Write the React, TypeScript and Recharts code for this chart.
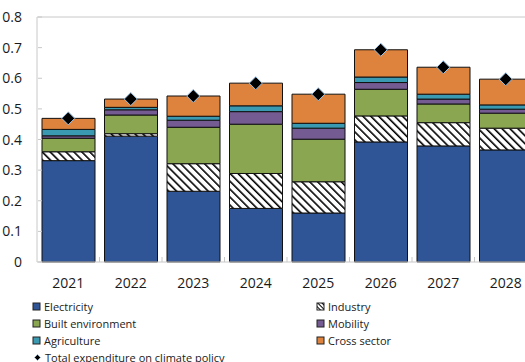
import React from 'react';
import {
  ComposedChart,
  Bar,
  Line,
  XAxis,
  YAxis,
  ReferenceLine,
} from 'recharts';

// values (share, 0-0.8)
const years = ['2021', '2022', '2023', '2024', '2025', '2026', '2027', '2028'];
const electricity = [0.331, 0.411, 0.231, 0.175, 0.16, 0.392, 0.379, 0.366];
const industry = [0.029, 0.008, 0.09, 0.114, 0.102, 0.085, 0.076, 0.071];
const builtEnvironment = [0.044, 0.061, 0.119, 0.161, 0.139, 0.087, 0.061, 0.049];
const mobility = [0.008, 0.017, 0.023, 0.041, 0.036, 0.022, 0.016, 0.013];
const agriculture = [0.021, 0.008, 0.013, 0.019, 0.016, 0.018, 0.016, 0.014];
const crossSector = [0.036, 0.027, 0.066, 0.074, 0.095, 0.089, 0.088, 0.084];
const totalExpenditure = [0.469, 0.532, 0.542, 0.584, 0.548, 0.693, 0.636, 0.597];
const yTicks = [0, 0.1, 0.2, 0.3, 0.4, 0.5, 0.6, 0.7, 0.8];

const data = years.map((year, i) => ({
  year,
  electricity: electricity[i],
  industry: industry[i],
  builtEnvironment: builtEnvironment[i],
  mobility: mobility[i],
  agriculture: agriculture[i],
  crossSector: crossSector[i],
  total: totalExpenditure[i],
}));

const COLORS = {
  electricity: '#2F5597',
  builtEnvironment: '#8AA650',
  mobility: '#745B92',
  agriculture: '#3A9AB2',
  crossSector: '#DE833D',
};

const FONT = '"Open Sans", "DejaVu Sans", sans-serif';
const TEXT = '#1a1a1a';
const FRAME = '#c8c8c8';
const BAND = 62.5;

const Diamond = (props: any) => {
  const { cx, cy, index } = props;
  if (cx == null || cy == null) return null;
  const r = 6.5;
  return (
    <polygon
      key={`d-${index}`}
      points={`${cx},${cy - r} ${cx + r},${cy} ${cx},${cy + r} ${cx - r},${cy}`}
      fill="#000"
      stroke="#9DC3E6"
      strokeWidth={1}
    />
  );
};

const YTick = (props: any) => {
  const { x, y, payload } = props;
  const v = payload.value;
  return (
    <g>
      <text x={x} y={y} dy="0.36em" textAnchor="end" fill={TEXT} fontSize={14} fontFamily={FONT}>
        {v === 0 ? '0' : v.toFixed(1)}
      </text>
      <line x1={x + 16} x2={x + 20} y1={y} y2={y} stroke={FRAME} />
    </g>
  );
};

const XTick = (props: any) => {
  const { x, y, payload, index } = props;
  const axisY = y - 16;
  return (
    <g>
      <text x={x} y={y} dy="0.71em" textAnchor="middle" fill={TEXT} fontSize={14} fontFamily={FONT}>
        {payload.value}
      </text>
      {index < years.length - 1 && (
        <line x1={x + BAND / 2} x2={x + BAND / 2} y1={axisY - 5} y2={axisY} stroke={FRAME} />
      )}
    </g>
  );
};

const Swatch = ({ fill }: { fill: string }) => (
  <svg width={9} height={9} style={{ marginRight: 3, flex: 'none' }}>
    <defs>
      <pattern id="hatchSmall" width={3} height={3} patternUnits="userSpaceOnUse" patternTransform="rotate(-45)">
        <rect width={3} height={3} fill="#fff" />
        <line x1={0} y1={0} x2={0} y2={3} stroke="#000" strokeWidth={2} />
      </pattern>
    </defs>
    <rect x={1} y={1} width={7} height={7} fill={fill} stroke="#222" strokeWidth={1} />
  </svg>
);

const legendRows = [
  { top: 306.5, left: [{ name: 'Electricity', fill: COLORS.electricity }], right: { name: 'Industry', fill: 'url(#hatchSmall)' } },
  { top: 323.5, left: [{ name: 'Built environment', fill: COLORS.builtEnvironment }], right: { name: 'Mobility', fill: COLORS.mobility } },
  { top: 340, left: [{ name: 'Agriculture', fill: COLORS.agriculture }], right: { name: 'Cross sector', fill: COLORS.crossSector } },
];

const itemStyle: React.CSSProperties = {
  position: 'absolute',
  display: 'flex',
  alignItems: 'center',
  height: 16,
  fontSize: 11,
  fontFamily: FONT,
  color: TEXT,
  whiteSpace: 'nowrap',
};

export default function App() {
  return (
    <div style={{ position: 'absolute', left: 0, top: 0, width: 525, height: 362, overflow: 'hidden', background: '#fff' }}>
      <ComposedChart
        width={545}
        height={300}
        data={data}
        margin={{ top: 17, right: 8, bottom: 0, left: 0 }}
        barCategoryGap={5}
      >
        <defs>
          <pattern id="hatch" width={5.6} height={5.6} patternUnits="userSpaceOnUse" patternTransform="rotate(-45)">
            <rect width={5.6} height={5.6} fill="#fff" />
            <line x1={0} y1={0} x2={0} y2={5.6} stroke="#000" strokeWidth={3.2} />
          </pattern>
        </defs>
        <XAxis
          dataKey="year"
          height={38}
          axisLine={{ stroke: FRAME }}
          tickLine={false}
          tickSize={16}
          tickMargin={0}
          tick={<XTick />}
          interval={0}
        />
        <YAxis
          width={37}
          domain={[0, 0.8]}
          ticks={yTicks}
          axisLine={{ stroke: FRAME }}
          tickLine={false}
          tickSize={15}
          tickMargin={0}
          tick={<YTick />}
          interval={0}
        />
        <ReferenceLine y={0.8} stroke={FRAME} />
        <Bar dataKey="electricity" stackId="a" fill={COLORS.electricity} stroke="#111" strokeWidth={1} isAnimationActive={false} />
        <Bar dataKey="industry" stackId="a" fill="url(#hatch)" stroke="#111" strokeWidth={1} isAnimationActive={false} />
        <Bar dataKey="builtEnvironment" stackId="a" fill={COLORS.builtEnvironment} stroke="#111" strokeWidth={1} isAnimationActive={false} />
        <Bar dataKey="mobility" stackId="a" fill={COLORS.mobility} stroke="#111" strokeWidth={1} isAnimationActive={false} />
        <Bar dataKey="agriculture" stackId="a" fill={COLORS.agriculture} stroke="#111" strokeWidth={1} isAnimationActive={false} />
        <Bar dataKey="crossSector" stackId="a" fill={COLORS.crossSector} stroke="#111" strokeWidth={1} isAnimationActive={false} />
        <Line dataKey="total" stroke="none" dot={<Diamond />} activeDot={false} isAnimationActive={false} />
      </ComposedChart>

      {legendRows.map((row) => (
        <React.Fragment key={row.top}>
          {row.left.map((it) => (
            <div key={it.name} style={{ ...itemStyle, left: 32, top: row.top - 8 }}>
              <Swatch fill={it.fill} />
              {it.name}
            </div>
          ))}
          <div style={{ ...itemStyle, left: 316, top: row.top - 8 }}>
            <Swatch fill={row.right.fill} />
            {row.right.name}
          </div>
        </React.Fragment>
      ))}
      <div style={{ ...itemStyle, left: 33, top: 357 - 8 }}>
        <svg width={9} height={9} style={{ marginRight: 3, flex: 'none' }}>
          <polygon points="4.5,1.5 7.5,4.5 4.5,7.5 1.5,4.5" fill="#000" stroke="#9DC3E6" strokeWidth={0.6} />
        </svg>
        Total expenditure on climate policy
      </div>
    </div>
  );
}
